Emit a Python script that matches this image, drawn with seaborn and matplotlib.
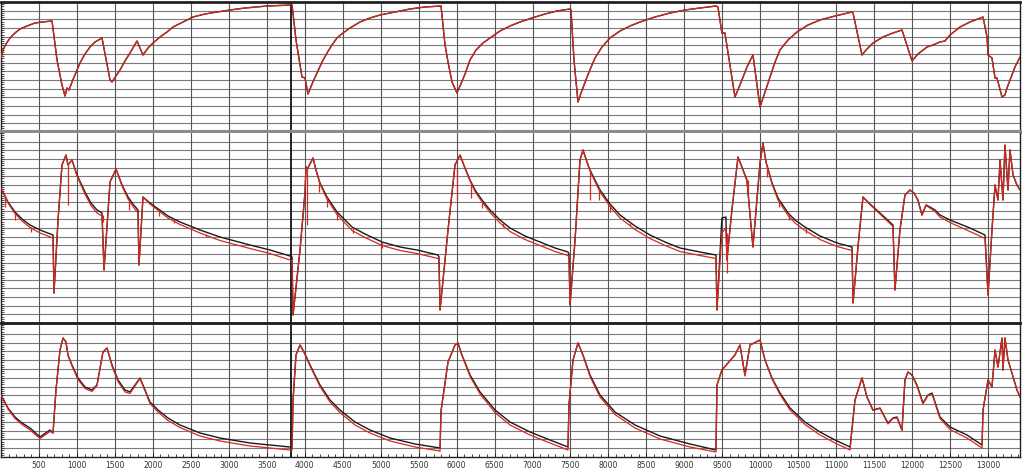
import numpy as np
import pandas as pd
import seaborn as sns
import matplotlib.pyplot as plt

# time (hours) and pressure-like readings for the three panels

# top panel: observed and simulated lie on top of each other
top_t = [0, 26, 66, 119, 184, 250, 342, 448, 540, 672, 738, 803, 843, 869, 896, 935, 1001,
         1040, 1106, 1172, 1238, 1330, 1436, 1462, 1515, 1567, 1633, 1699, 1791, 1870, 1936,
         2002, 2094, 2186, 2265, 2397, 2529, 2687, 2845, 3016, 3213, 3503, 3806, 3833, 3885,
         3964, 4004, 4043, 4096, 4162, 4228, 4293, 4359, 4425, 4504, 4596, 4728, 4860, 4991,
         5189, 5387, 5584, 5782, 5795, 5848, 5887, 5940, 6005, 6045, 6111, 6177, 6256, 6348,
         6440, 6572, 6703, 6835, 6993, 7164, 7322, 7494, 7507, 7546, 7599, 7639, 7678, 7744,
         7823, 7915, 8020, 8152, 8284, 8416, 8613, 8811, 9008, 9206, 9416, 9442, 9494, 9534,
         9666, 9732, 9824, 9903, 9996, 10062, 10128, 10194, 10259, 10365, 10483, 10628, 10786,
         10984, 11208, 11221, 11339, 11392, 11484, 11615, 11747, 11866, 11998, 12076, 12195,
         12274, 12366, 12432, 12498, 12630, 12761, 12933, 12986, 12999, 13051, 13091, 13117,
         13183, 13222, 13249, 13354, 13420]
top_p = [2740, 2820, 2880, 2940, 2990, 3030, 3060, 3090, 3100, 3110, 2720, 2470, 2360, 2440,
         2420, 2500, 2620, 2690, 2780, 2850, 2900, 2940, 2520, 2500, 2560, 2620, 2710, 2790,
         2910, 2770, 2840, 2890, 2950, 3000, 3050, 3100, 3150, 3180, 3200, 3220, 3240, 3260,
         3270, 3270, 2920, 2550, 2540, 2380, 2480, 2590, 2700, 2790, 2870, 2940, 2990, 3040,
         3100, 3140, 3170, 3200, 3230, 3250, 3260, 3260, 2870, 2700, 2500, 2390, 2460, 2580,
         2720, 2820, 2890, 2940, 3010, 3060, 3100, 3140, 3180, 3210, 3230, 3220, 2720, 2300,
         2390, 2470, 2600, 2740, 2850, 2940, 3010, 3060, 3100, 3150, 3190, 3220, 3240, 3260,
         3250, 2990, 2990, 2350, 2470, 2650, 2770, 2250, 2400, 2550, 2700, 2820, 2920, 3000,
         3070, 3120, 3160, 3200, 3190, 2770, 2820, 2890, 2950, 2990, 3020, 2710, 2780, 2850,
         2870, 2900, 2910, 2970, 3050, 3100, 3150, 2950, 2770, 2740, 2540, 2540, 2350, 2370,
         2440, 2650, 2750]

# middle panel
mid_t = [0, 13, 92, 184, 277, 382, 514, 685, 698, 751, 803, 856, 882, 935, 1001, 1106, 1185,
         1264, 1330, 1357, 1436, 1515, 1594, 1673, 1738, 1804, 1817, 1870, 1962, 2054, 2199,
         2357, 2621, 2884, 3279, 3543, 3806, 3833, 3846, 3938, 4004, 4017, 4043, 4109, 4149,
         4201, 4293, 4425, 4530, 4623, 4794, 5018, 5255, 5479, 5755, 5768, 5782, 5887, 5979,
         6045, 6111, 6177, 6243, 6335, 6440, 6572, 6703, 6901, 7098, 7296, 7467, 7480, 7494,
         7560, 7625, 7665, 7718, 7757, 7823, 7889, 8020, 8152, 8350, 8547, 8745, 8942, 9206,
         9416, 9429, 9494, 9547, 9560, 9626, 9706, 9758, 9824, 9903, 9996, 10035, 10075,
         10154, 10233, 10365, 10457, 10588, 10786, 11010, 11208, 11221, 11286, 11352, 11444,
         11576, 11747, 11773, 11839, 11905, 11971, 12024, 12076, 12129, 12182, 12234, 12300,
         12366, 12498, 12761, 12959, 12999, 13051, 13091, 13130, 13157, 13196, 13222, 13262,
         13288, 13328, 13380, 13420]
mid_obs = [2350, 2330, 2210, 2110, 2040, 1980, 1930, 1880, 1300, 2030, 2580, 2680, 2580, 2630,
           2480, 2310, 2200, 2130, 2100, 1530, 2410, 2540, 2380, 2260, 2190, 2130, 1580, 2260,
           2200, 2150, 2070, 2010, 1930, 1860, 1780, 1730, 1670, 1660, 1080, 1730, 2310, 2560,
           2550, 2650, 2530, 2400, 2260, 2110, 2030, 1960, 1890, 1810, 1760, 1730, 1680, 1660,
           1130, 1930, 2580, 2680, 2550, 2430, 2330, 2230, 2130, 2030, 1950, 1870, 1810, 1750,
           1710, 1690, 1180, 1830, 2630, 2730, 2610, 2530, 2430, 2330, 2190, 2080, 1970, 1880,
           1810, 1750, 1710, 1680, 1130, 2050, 2060, 1630, 2130, 2660, 2560, 2430, 1760, 2600,
           2800, 2610, 2400, 2250, 2100, 2030, 1960, 1870, 1800, 1760, 1200, 1760, 2260, 2190,
           2100, 1980, 1330, 1930, 2280, 2330, 2300, 2230, 2080, 2180, 2160, 2130, 2080, 2030,
           1950, 1880, 1280, 1930, 2380, 2230, 2630, 2230, 2780, 2330, 2730, 2480, 2380, 2330]
mid_sim = [2350, 2330, 2200, 2095, 2020, 1955, 1900, 1850, 1300, 2030, 2580, 2680, 2580, 2630,
           2470, 2290, 2175, 2100, 2070, 1530, 2410, 2540, 2370, 2240, 2165, 2100, 1580, 2260,
           2190, 2135, 2050, 1985, 1900, 1825, 1745, 1695, 1630, 1620, 1080, 1730, 2310, 2560,
           2550, 2650, 2525, 2390, 2240, 2085, 2000, 1925, 1855, 1775, 1725, 1695, 1645, 1625,
           1130, 1930, 2580, 2680, 2545, 2420, 2315, 2210, 2105, 2000, 1915, 1835, 1775, 1715,
           1675, 1655, 1180, 1830, 2630, 2730, 2605, 2520, 2415, 2310, 2165, 2050, 1935, 1845,
           1775, 1715, 1675, 1645, 1130, 1900, 1950, 1630, 2130, 2660, 2555, 2420, 1760, 2600,
           2800, 2605, 2390, 2230, 2075, 2000, 1925, 1835, 1765, 1725, 1200, 1760, 2260, 2185,
           2090, 1965, 1330, 1930, 2280, 2330, 2300, 2225, 2080, 2175, 2150, 2115, 2060, 2005,
           1915, 1845, 1280, 1930, 2380, 2230, 2630, 2230, 2780, 2330, 2730, 2480, 2380, 2330]
# short downward spikes on the simulated curve: time, top, bottom
spike_t = [53, 184, 395, 882, 1343, 1686, 2081, 2278, 2700, 4030, 4188, 4293, 4425, 4636,
           5018, 6000, 6190, 6330, 6610, 7757, 7870, 8020, 8280, 9560, 9837, 10088, 10246,
           10378, 10600]
spike_hi = [2280, 2100, 1960, 2580, 2080, 2230, 2130, 2040, 1890, 2550, 2430, 2260, 2110,
            1960, 1810, 2550, 2410, 2230, 2000, 2530, 2350, 2190, 2010, 1900, 2430, 2580,
            2230, 2100, 1950]
spike_lo = [2160, 2030, 1910, 2180, 2010, 2130, 2070, 2000, 1860, 1980, 2310, 2160, 2030,
            1900, 1750, 2230, 2250, 2150, 1960, 2230, 2230, 2110, 1970, 1500, 2310, 2460,
            2160, 2030, 1900]

# bottom panel
bot_t = [0, 92, 184, 277, 382, 514, 645, 685, 724, 777, 817, 856, 882, 935, 1014, 1106, 1198,
         1264, 1343, 1396, 1462, 1541, 1633, 1699, 1765, 1831, 1897, 1962, 2068, 2199, 2357,
         2621, 2884, 3279, 3543, 3806, 3833, 3846, 3885, 3938, 3991, 4070, 4201, 4333, 4464,
         4662, 4860, 5123, 5453, 5782, 5795, 5887, 5979, 6019, 6071, 6177, 6309, 6506, 6703,
         6967, 7230, 7467, 7480, 7533, 7599, 7665, 7757, 7889, 8086, 8350, 8679, 9074, 9416,
         9429, 9494, 9666, 9732, 9798, 9864, 9996, 10062, 10154, 10259, 10391, 10588, 10786,
         10984, 11182, 11247, 11339, 11405, 11484, 11576, 11681, 11747, 11800, 11866, 11905,
         11945, 11998, 12063, 12142, 12208, 12261, 12366, 12498, 12722, 12920, 12933, 12999,
         13051, 13091, 13130, 13183, 13196, 13222, 13262, 13314, 13380, 13420]
bot_obs = [620, 490, 400, 340, 290, 200, 270, 240, 670, 1070, 1190, 1150, 1020, 920, 790, 700,
           670, 720, 1050, 1090, 920, 770, 670, 650, 720, 790, 670, 550, 470, 390, 320, 240,
           190, 140, 120, 100, 100, 570, 1020, 1120, 1050, 920, 720, 570, 470, 350, 270, 190,
           130, 90, 460, 950, 1120, 1140, 1020, 820, 650, 470, 350, 250, 170, 100, 520, 970,
           1140, 1020, 820, 620, 450, 320, 210, 130, 70, 720, 870, 1020, 1120, 820, 1120, 1170,
           970, 790, 640, 490, 350, 250, 170, 100, 570, 790, 600, 470, 490, 340, 390, 400, 270,
           770, 850, 820, 720, 540, 620, 640, 400, 300, 220, 120, 470, 770, 700, 1070, 900,
           1190, 870, 1190, 970, 840, 670, 600]
bot_sim = [620, 480, 385, 325, 270, 185, 255, 240, 670, 1070, 1190, 1145, 1015, 910, 775, 685,
           655, 715, 1050, 1090, 910, 755, 650, 635, 710, 785, 660, 535, 450, 365, 295, 210,
           160, 110, 90, 70, 70, 570, 1020, 1120, 1045, 910, 705, 550, 445, 320, 240, 160,
           100, 60, 460, 950, 1120, 1140, 1015, 805, 630, 445, 320, 220, 140, 70, 520, 970,
           1140, 1015, 805, 600, 425, 290, 180, 100, 50, 720, 870, 1020, 1120, 810, 1120, 1170,
           965, 780, 625, 470, 325, 220, 140, 70, 570, 790, 595, 465, 485, 330, 385, 390, 265,
           770, 850, 815, 710, 530, 615, 630, 385, 275, 190, 90, 470, 770, 700, 1070, 900,
           1190, 870, 1190, 970, 840, 670, 600]

tick_vals = list(range(500, 13001, 500))

sns.set_style("white")
plt.rcParams['font.family'] = ['DejaVu Sans']

fig = plt.figure(figsize=(10.22, 4.72), dpi=100)
W, H = 1022.0, 472.0
x0, x1 = 1 / W, 1020 / W
ax_top = fig.add_axes([x0, (H - 132) / H, x1 - x0, 130 / H])
ax_mid = fig.add_axes([x0, (H - 323) / H, x1 - x0, 190 / H], sharex=ax_top)
ax_bot = fig.add_axes([x0, (H - 457) / H, x1 - x0, 132 / H], sharex=ax_top)

red = "#d6281f"
blk = "#1a1a1a"

panels = [
    (ax_top, (2000, 3300), 15, top_t, top_p, top_p),
    (ax_mid, (1000, 2900), 22, mid_t, mid_obs, mid_sim),
    (ax_bot, (0, 1320), 15, bot_t, bot_obs, bot_sim),
]

for ax, ylim, n, t, y_obs, y_sim in panels:
    for y in np.linspace(ylim[0], ylim[1], n + 1)[1:-1]:
        ax.axhline(y, color="#7a7a7a", lw=0.8, zorder=0)
    for xv in tick_vals:
        ax.axvline(xv, color="#555555", lw=0.8, zorder=0)
    ax.axvline(3819, color="#111111", lw=1.3, zorder=1)
    df = pd.DataFrame({"t": t, "obs": y_obs, "sim": y_sim})
    sns.lineplot(data=df, x="t", y="obs", ax=ax, color=blk, lw=1.0,
                 sort=False, estimator=None, zorder=3)
    sns.lineplot(data=df, x="t", y="sim", ax=ax, color=red, lw=0.9,
                 sort=False, estimator=None, zorder=4)
    ax.set_ylim(*ylim)
    ax.set_xlim(0, 13420)
    ax.set_xlabel("")
    ax.set_ylabel("")
    ax.set_yticks(np.linspace(ylim[0], ylim[1], 4 * n + 1), minor=True)
    ax.set_yticks([])
    ax.tick_params(axis="y", which="minor", direction="in", length=2, width=0.6,
                   color="#333333", left=True)
    for s in ax.spines.values():
        s.set_color("#222222")
        s.set_linewidth(1.0)

ax_mid.vlines(spike_t, spike_lo, spike_hi, color=red, lw=0.9, zorder=4)

ax_top.spines["top"].set_linewidth(2.0)
ax_top.spines["bottom"].set_color("#8c8c8c")
ax_top.spines["bottom"].set_linewidth(3.0)
ax_mid.spines["top"].set_visible(False)
ax_mid.spines["bottom"].set_color("#1a1a1a")
ax_mid.spines["bottom"].set_linewidth(2.0)
ax_bot.spines["top"].set_visible(False)

for ax in (ax_top, ax_mid):
    ax.tick_params(axis="x", which="both", bottom=False, labelbottom=False)

ax_bot.set_xticks(tick_vals)
ax_bot.set_xticklabels([str(v) for v in tick_vals])
ax_bot.set_xticks(list(range(100, 13401, 100)), minor=True)
ax_bot.tick_params(axis="x", which="major", direction="in", length=3, width=0.7,
                   labelsize=5.5, labelcolor="#333333", pad=3, bottom=True)
ax_bot.tick_params(axis="x", which="minor", direction="in", length=2, width=0.6,
                   bottom=True)

fig.savefig("out.png", dpi=100)
